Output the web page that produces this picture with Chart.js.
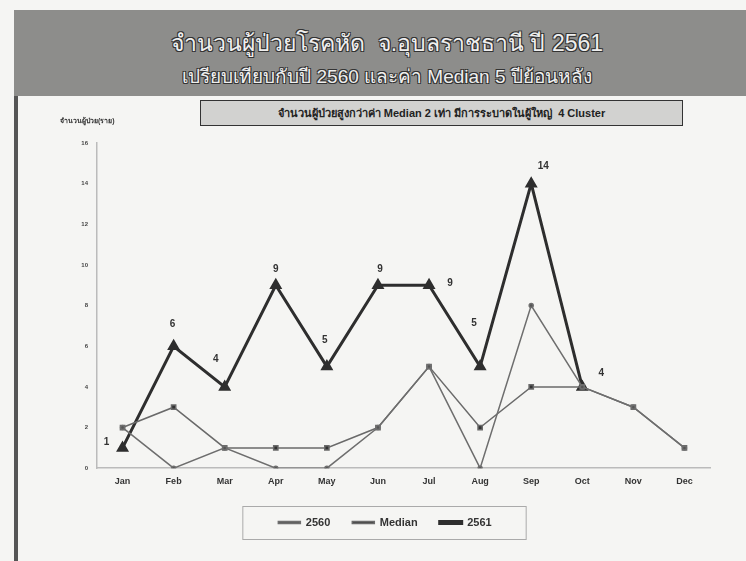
<!DOCTYPE html>
<html>
<head>
<meta charset="utf-8">
<script src="https://cdn.jsdelivr.net/npm/chart.js@4/dist/chart.umd.min.js"></script>
<style>
  body { margin: 0; width: 746px; height: 561px; background: #f5f5f3; position: relative; overflow: hidden; font-family: "Liberation Sans", "Noto Sans", sans-serif; }
  #header { position: absolute; left: 14px; top: 10px; width: 732px; height: 86px; background: #8d8d8b; }
  #header div { position: absolute; left: 0; width: 746px; text-align: center; color: #efefef; font-family: "Liberation Sans Narrow", "Liberation Sans", "Noto Sans", sans-serif;
    text-shadow: -1px -1px 0 #333, 1px -1px 0 #333, -1px 1px 0 #333, 1px 1px 0 #333; }
  #t1 { top: 15px; font-size: 23px; }
  #t2 { top: 51px; font-size: 19px; }
  #leftbar { position: absolute; left: 14px; top: 96px; width: 4px; height: 465px; background: #555; }
  #boxtitle { position: absolute; left: 200px; top: 100px; width: 481px; height: 24px; border: 1px solid #333; background: #d2d2d0;
    font-size: 11px; font-weight: bold; color: #222; text-align: center; line-height: 24px; }
  #ytitle { position: absolute; left: 60px; top: 115px; font-size: 7px; font-weight: bold; color: #333; }
  #wrap { position: absolute; left: 0; top: 0; width: 746px; height: 561px; }
</style>
</head>
<body>
<div id="header">
  <div id="t1">จำนวนผู้ป่วยโรคหัด &nbsp;จ.อุบลราชธานี ปี 2561</div>
  <div id="t2">เปรียบเทียบกับปี 2560 และค่า Median 5 ปีย้อนหลัง</div>
</div>
<div id="leftbar"></div>
<div id="wrap"><canvas id="chart" width="746" height="561"></canvas></div>
<div id="boxtitle">จำนวนผู้ป่วยสูงกว่าค่า Median 2 เท่า มีการระบาดในผู้ใหญ่ &nbsp;4 Cluster</div>
<div id="ytitle">จำนวนผู้ป่วย(ราย)</div>
<script>
const months = ['Jan', 'Feb', 'Mar', 'Apr', 'May', 'Jun', 'Jul', 'Aug', 'Sep', 'Oct', 'Nov', 'Dec'];
const y2560 = [2, 0, 1, 0, 0, 2, 5, 0, 8, 4, 3, 1];
const median = [2, 3, 1, 1, 1, 2, 5, 2, 4, 4, 3, 1];
const y2561 = [1, 6, 4, 9, 5, 9, 9, 5, 14, 4, null, null];

// where each value label of 2561 sits relative to its point
const labelShift = [[-16, -6], [-1, -22], [-9, -28], [0, -16], [-2, -26], [2, -16], [21, -2], [-6, -43], [12, -17], [19, -14]];

const valueLabels = {
    id: 'valueLabels',
    afterDatasetsDraw(chart) {
        const ctx = chart.ctx;
        const meta = chart.getDatasetMeta(2);
        ctx.save();
        ctx.font = 'bold 10px "Liberation Sans", sans-serif';
        ctx.fillStyle = '#333';
        ctx.textAlign = 'center';
        ctx.textBaseline = 'middle';
        meta.data.forEach((pt, i) => {
            if (y2561[i] == null) return;
            const s = labelShift[i] || [0, -14];
            ctx.fillText(y2561[i], pt.x + s[0], pt.y + s[1]);
        });
        ctx.restore();
    }
};

const legendBox = {
    id: 'legendBox',
    afterDraw(chart) {
        const lg = chart.legend;
        if (!lg || !lg.legendHitBoxes.length) return;
        const boxes = lg.legendHitBoxes;
        const x0 = boxes[0].left - 36;
        const x1 = boxes[boxes.length - 1].left + boxes[boxes.length - 1].width + 34;
        const y0 = boxes[0].top - 11;
        const y1 = boxes[0].top + boxes[0].height + 11;
        const ctx = chart.ctx;
        ctx.save();
        ctx.strokeStyle = '#aaa';
        ctx.lineWidth = 1;
        ctx.strokeRect(x0 + 0.5, y0 + 0.5, x1 - x0, y1 - y0);
        ctx.restore();
    }
};

new Chart(document.getElementById('chart').getContext('2d'), {
    type: 'line',
    data: {
        labels: months,
        datasets: [{
            label: '2560',
            data: y2560,
            borderColor: '#6e6e6e',
            backgroundColor: '#555',
            borderWidth: 1.5,
            pointStyle: 'circle',
            pointRadius: 2,
            tension: 0
        }, {
            label: 'Median',
            data: median,
            borderColor: '#6a6a6a',
            backgroundColor: '#333',
            borderWidth: 1.5,
            pointStyle: 'rect',
            pointRadius: 3,
            tension: 0
        }, {
            label: '2561',
            data: y2561,
            borderColor: '#2e2e2e',
            backgroundColor: '#2e2e2e',
            borderWidth: 3,
            pointStyle: 'triangle',
            pointRadius: 4.5,
            tension: 0
        }]
    },
    options: {
        responsive: false,
        animation: false,
        layout: { padding: { left: 60, right: 36, top: 143, bottom: 23 } },
        scales: {
            x: {
                offset: true,
                grid: { display: false, drawTicks: false },
                border: { color: '#bbb', width: 1.5 },
                ticks: { color: '#333', font: { size: 9, weight: 'bold' }, padding: 8 }
            },
            y: {
                min: 0,
                max: 16,
                afterFit: function (scale) { scale.width = 37; },
                grid: { display: false, drawTicks: true, tickLength: 3, tickColor: '#bbb' },
                border: { color: '#bbb', width: 1.5 },
                ticks: { stepSize: 2, color: '#444', font: { size: 6, weight: 'bold' }, padding: 6 }
            }
        },
        plugins: {
            title: { display: false },
            tooltip: { enabled: false },
            legend: {
                position: 'bottom',
                labels: {
                    color: '#333',
                    font: { size: 11, weight: 'bold' },
                    boxWidth: 22,
                    boxHeight: 2,
                    padding: 22
                }
            }
        }
    },
    plugins: [valueLabels, legendBox]
});
</script>
</body>
</html>
